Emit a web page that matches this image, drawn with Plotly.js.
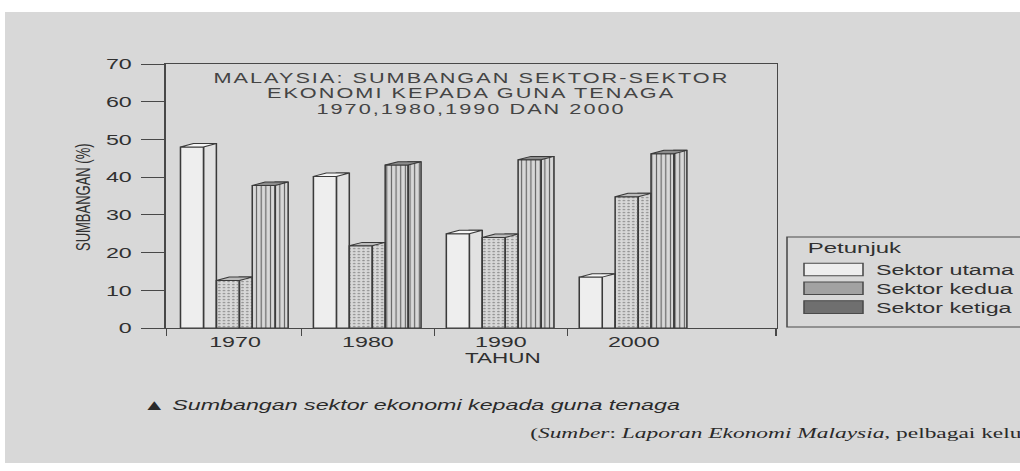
<!DOCTYPE html>
<html><head><meta charset="utf-8">
<script src="https://cdn.plot.ly/plotly-3.0.1.min.js"></script>
<style>
html,body{margin:0;padding:0;background:#fff;overflow:hidden;}
#wrap{width:1020px;height:471px;overflow:hidden;position:relative;}
#chart{width:658px;height:471px;transform:scaleX(1.55015);transform-origin:0 0;}
.annotation[data-index="0"] text,.annotation[data-index="1"] text,.annotation[data-index="2"] text{letter-spacing:1.3px;}
</style></head><body>
<div id="wrap"><div id="chart"></div></div>
<script>
// ---- data ----
const years = ['1970', '1980', '1990', '2000'];
const seriesNames = ['Sektor utama', 'Sektor kedua', 'Sektor ketiga'];
const utama  = [48, 40.2, 25, 13.5];
const kedua  = [12.6, 21.8, 24, 34.8];
const ketiga = [37.8, 43.2, 44.6, 46.2];
const titleLines = ['MALAYSIA: SUMBANGAN SEKTOR-SEKTOR', 'EKONOMI KEPADA GUNA TENAGA', '1970,1980,1990 DAN 2000'];
const yTitle = 'SUMBANGAN (%)';
const xTitle = 'TAHUN';
const legendTitle = 'Petunjuk';
const caption = '▲ <i>Sumbangan sektor ekonomi kepada guna tenaga</i>';
const source = '(<i>Sumber</i>: <i>Laporan Ekonomi Malaysia</i>, pelbagai keluaran)';

// ---- geometry helpers (screen px -> paper) ----
const S = 1020 / 658, L = 107, R = 157, T = 64, B = 143, W = 658, H = 471;
const PW = W - L - R, PH = H - T - B, PB = T + PH;
const sx = xs => (xs / S - L) / PW;
const sy = ys => (PB - ys) / PH;

const xIdx = years.map((_, i) => i);
const values = [utama, kedua, ketiga];
const frontColors = ['#eeeeee', '#a2a2a2', '#6f6f6f'];
const sideColors = ['#e2e2e2', '#acacac', '#7b7b7b'];
const topColors = ['#f6f6f6', '#bcbcbc', '#8c8c8c'];
const patterns = [
  {shape: ''},
  {shape: '.', fgcolor: '#939393', size: 3, solidity: 0.25},
  {shape: '|', fgcolor: '#626262', size: 3, solidity: 0.25}
];
const offsets = [-0.41, -0.14, 0.13];
const frontW = 0.173, sideW = 0.097, depth = 0.9;
const edge = '#3a3a3a';

const traces = [];
values.forEach((vals, i) => {
  // side face (3D depth)
  traces.push({
    type: 'bar', x: xIdx, y: vals.map(v => v + depth), offset: offsets[i] + frontW, width: sideW,
    marker: {color: sideColors[i], line: {color: edge, width: 1}, pattern: patterns[i]},
    showlegend: false, hoverinfo: 'skip'
  });
  // front face
  traces.push({
    type: 'bar', name: seriesNames[i], x: xIdx, y: vals, offset: offsets[i], width: frontW,
    marker: {color: frontColors[i], line: {color: edge, width: 1}, pattern: patterns[i]},
    showlegend: false
  });
});
// top faces (parallelograms derived from the same values)
values.forEach((vals, i) => {
  const tx = [], ty = [];
  vals.forEach((v, j) => {
    const x0 = xIdx[j] + offsets[i];
    tx.push(x0, x0 + frontW, x0 + frontW + sideW, x0 + sideW, x0, null);
    ty.push(v, v, v + depth, v + depth, v, null);
  });
  traces.push({type: 'scatter', mode: 'lines', x: tx, y: ty, fill: 'toself', fillcolor: topColors[i],
    line: {color: edge, width: 1}, showlegend: false, hoverinfo: 'skip'});
});

const font = 'Liberation Sans, Arial, sans-serif';
const annotations = [];
const titleY = [77.5, 93, 108.5];
titleLines.forEach((t, i) => annotations.push({
  text: t, xref: 'paper', yref: 'paper', x: 0.5, y: sy(titleY[i]), xanchor: 'center', yanchor: 'middle',
  showarrow: false, font: {family: font, size: 14, color: '#444444'}
}));
annotations.push({text: yTitle, xref: 'paper', yref: 'paper', x: sx(83), y: sy(197.5), textangle: -90,
  xanchor: 'center', yanchor: 'middle', showarrow: false, font: {family: font, size: 13, color: '#303030'}});
annotations.push({text: xTitle, xref: 'paper', yref: 'paper', x: sx(503), y: sy(357.5),
  xanchor: 'center', yanchor: 'middle', showarrow: false, font: {family: font, size: 14.5, color: '#303030'}});
annotations.push({text: caption, xref: 'paper', yref: 'paper', x: sx(140), y: sy(404),
  xanchor: 'left', yanchor: 'middle', showarrow: false, font: {family: font, size: 15, color: '#2a2a2a'}});
annotations.push({text: source, xref: 'paper', yref: 'paper', x: sx(527), y: sy(433),
  xanchor: 'left', yanchor: 'middle', showarrow: false, font: {family: 'Liberation Serif, Times New Roman, serif', size: 15.1, color: '#2a2a2a'}});

// ---- legend (Petunjuk) built from the series names ----
const shapes = [{type: 'rect', xref: 'paper', yref: 'paper', x0: sx(5), x1: 1.6, y0: sy(463), y1: sy(12),
  fillcolor: '#d8d8d8', line: {width: 0}, layer: 'below'}];
shapes.push({type: 'rect', xref: 'paper', yref: 'paper', x0: sx(787), x1: 1.7, y0: sy(327), y1: sy(237),
  fillcolor: 'rgba(0,0,0,0)', line: {color: '#4a4a4a', width: 1}});
annotations.push({text: legendTitle, xref: 'paper', yref: 'paper', x: sx(805), y: sy(247.5),
  xanchor: 'left', yanchor: 'middle', showarrow: false, font: {family: font, size: 15.5, color: '#303030'}});
seriesNames.forEach((name, i) => {
  const c = 269.5 + i * 18.8;
  shapes.push({type: 'rect', xref: 'paper', yref: 'paper', x0: sx(804), x1: sx(863), y0: sy(c + 6.3), y1: sy(c - 6.3),
    fillcolor: frontColors[i], line: {color: '#4a4a4a', width: 1}});
  annotations.push({text: name, xref: 'paper', yref: 'paper', x: sx(872), y: sy(c),
    xanchor: 'left', yanchor: 'middle', showarrow: false, font: {family: font, size: 15, color: '#303030'}});
});

const layout = {
  width: W, height: H,
  margin: {l: L, r: R, t: T, b: B, pad: 0},
  paper_bgcolor: '#ffffff', plot_bgcolor: 'rgba(0,0,0,0)',
  barmode: 'overlay',
  showlegend: false,
  font: {family: font, color: '#303030'},
  xaxis: {
    range: [-0.52, 4.075], tickmode: 'array', tickvals: xIdx, ticktext: years, ticks: '',
    showline: true, linecolor: '#484848', linewidth: 1, mirror: true, showgrid: false, zeroline: false,
    tickfont: {family: font, size: 15, color: '#303030'},
    minor: {tickmode: 'array', tickvals: [-0.515, 0.5, 1.5, 2.5, 4.07], ticks: 'outside', ticklen: 7, tickcolor: '#484848', tickwidth: 1, showgrid: false}
  },
  yaxis: {
    range: [0, 70], dtick: 10, ticks: 'outside', ticklen: 15, tickcolor: '#484848', tickwidth: 1,
    showline: true, linecolor: '#484848', linewidth: 1, mirror: true, showgrid: false, zeroline: false,
    ticklabelstandoff: 3,
    tickfont: {family: font, size: 15, color: '#303030'}
  },
  shapes: shapes,
  annotations: annotations
};

Plotly.newPlot('chart', traces, layout, {staticPlot: true, displayModeBar: false});
</script>
</body></html>
